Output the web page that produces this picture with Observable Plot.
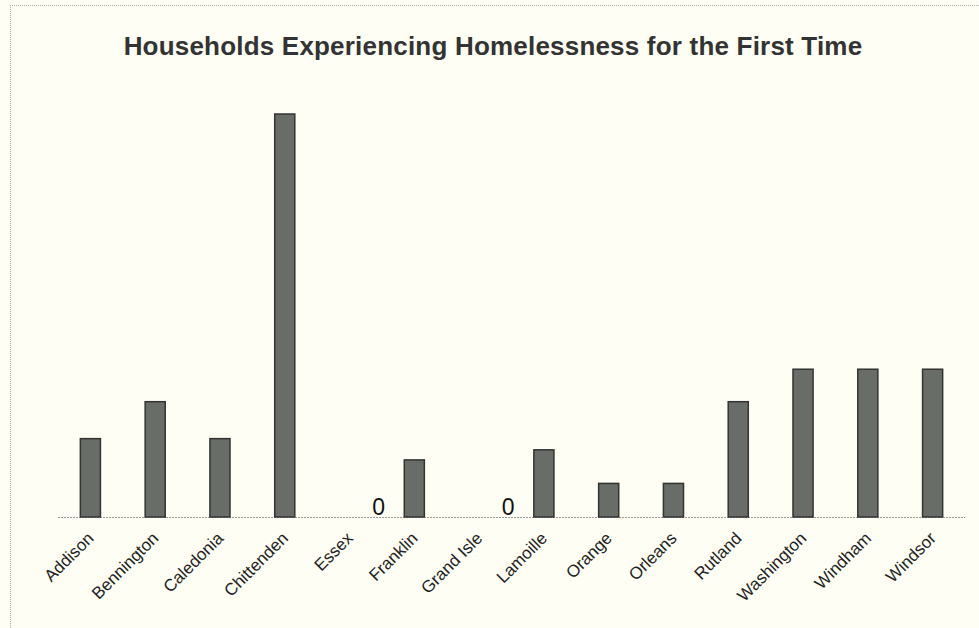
<!DOCTYPE html>
<html>
<head>
<meta charset="utf-8">
<script src="https://cdn.jsdelivr.net/npm/d3@7"></script>
<script src="https://cdn.jsdelivr.net/npm/@observablehq/plot@0.6"></script>
<style>
  html, body { margin: 0; padding: 0; background: #fefef4; }
  #wrap { position: relative; width: 979px; height: 628px; overflow: hidden; background: #fefef4; }
  #title { position: absolute; left: 0; width: 986px; top: 31px; line-height: 30px; text-align: center;
    font-family: "Liberation Sans", Arial, sans-serif; font-weight: bold; font-size: 26px; letter-spacing: 0.2px; color: #333; }
  #frameTop { position: absolute; left: 10px; top: 5px; width: 969px; border-top: 1px dotted #aaa; }
  #frameLeft { position: absolute; left: 10px; top: 5px; height: 623px; border-left: 1px dotted #aaa; }
  #chart { position: absolute; left: 0; top: 0; }
</style>
</head>
<body>
<div id="wrap">
  <div id="frameTop"></div>
  <div id="frameLeft"></div>
  <div id="chart"></div>
  <div id="title">Households Experiencing Homelessness for the First Time</div>
</div>
<script>
const counties = ["Addison","Bennington","Caledonia","Chittenden","Essex","Franklin","Grand Isle","Lamoille","Orange","Orleans","Rutland","Washington","Windham","Windsor"];
const households = [7, 10.3, 7, 36, 0, 5.1, 0, 6, 3, 3, 10.3, 13.2, 13.2, 13.2];
const zeroLabels = ["Essex", "Grand Isle"];

const data = counties.map((c, i) => ({county: c, value: households[i]}));
const zeros = data.filter(d => zeroLabels.includes(d.county));

const chart = Plot.plot({
  width: 979,
  height: 628,
  marginTop: 114,
  marginBottom: 111,
  marginLeft: 58,
  marginRight: 14,
  style: {background: "transparent", fontFamily: "'Liberation Sans', Arial, sans-serif", fontSize: "17px", color: "#222"},
  x: {domain: counties, paddingInner: 0.69, paddingOuter: 0.345, round: false, label: null},
  y: {domain: [0, 36], axis: null},
  marks: [
    Plot.ruleY([0], {stroke: "#9a9a9a", strokeWidth: 1.2, strokeDasharray: "2,1"}),
    Plot.barY(data, {x: "county", y: "value", fill: "#686d68", stroke: "#333", strokeWidth: 1.5}),
    Plot.text(zeros, {x: "county", y: 0, text: d => String(d.value), dx: 28.5, dy: -3, lineAnchor: "bottom", fontSize: 23, fill: "#111"}),
    Plot.axisX({tickSize: 0, tickPadding: 18, tickRotate: -45, fontSize: 17, fill: "#222", label: null})
  ]
});
document.getElementById("chart").appendChild(chart);
</script>
</body>
</html>
